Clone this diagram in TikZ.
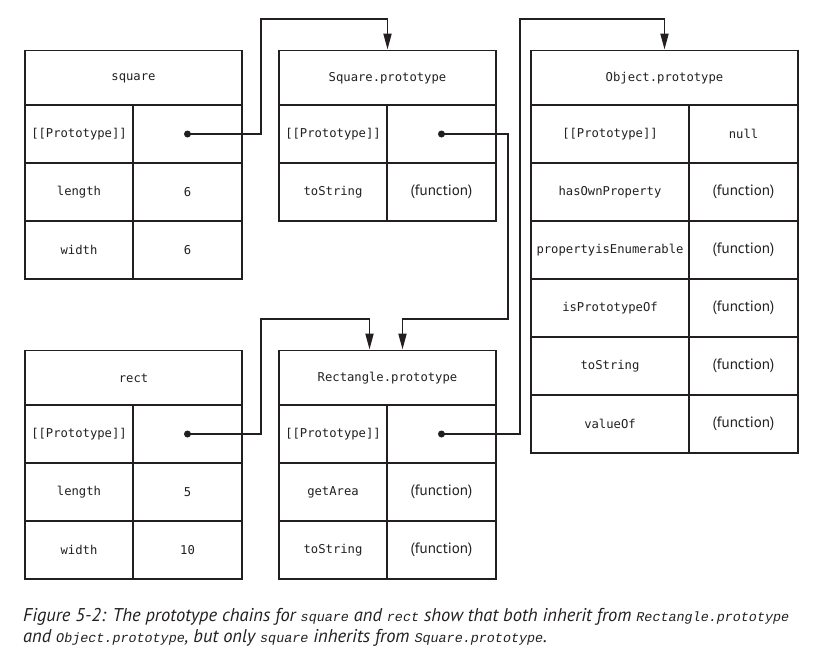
\documentclass[tikz,border=0pt]{standalone}
\usepackage{fontspec}
\setmainfont{PT Sans}
\setmonofont{DejaVu Sans Mono}
\newfontfamily\capmono{Liberation Mono}
\usepackage{tikz}
\usetikzlibrary{arrows.meta}

\definecolor{ink}{RGB}{35,31,32}
\newcommand{\cellfont}{\ttfamily\fontsize{12.2}{14}\selectfont}
\newcommand{\fnfont}{\rmfamily\fontsize{15}{17}\selectfont}
\newcommand{\code}[1]{{\capmono\itshape\fontsize{13.4}{16}\selectfont #1}}

\begin{document}
\begin{tikzpicture}
      % Set up styles (1pt = 1px, y grows downwards)
      [x=1pt, y=-1pt, ink,
       cell/.style={draw=ink, line width=1.9pt, rectangle, inner sep=0pt, minimum height=58pt, font=\cellfont},
       head/.style={cell, minimum height=55pt, minimum width=217pt},
       key/.style={cell, minimum width=108pt},
       val/.style={cell, minimum width=109pt},
       wide/.style={cell, minimum width=158pt},
       fn/.style={val, font=\fnfont},
       link/.style={draw=ink, line width=1.9pt, -{Triangle[length=16pt,width=8pt]}}]

      \useasboundingbox (0,0) rectangle (830,672);

      % square
      \node[head] (sqH) at (133.5,78) {square};
      \node[key] (sqPk) at (79,134) {[[Prototype]]};
      \node[val] (sqPv) at (187.5,134) {};
      \node[key] (sqLk) at (79,192) {length};
      \node[val] (sqLv) at (187.5,192) {6};
      \node[key] (sqWk) at (79,250) {width};
      \node[val] (sqWv) at (187.5,250) {6};

      % Square.prototype
      \node[head] (spH) at (387.5,78) {Square.prototype};
      \node[key] (spPk) at (333,134) {[[Prototype]]};
      \node[val] (spPv) at (441.5,134) {};
      \node[key] (spTk) at (333,192) {toString};
      \node[fn] (spTv) at (441.5,192) {(function)};

      % Object.prototype
      \node[head, minimum width=267pt] (obH) at (664.5,78) {Object.prototype};
      \node[wide] (obPk) at (610,134) {[[Prototype]]};
      \node[val] (obPv) at (743.5,134) {null};
      \node[wide] (obHk) at (610,192) {hasOwnProperty};
      \node[fn] (obHv) at (743.5,192) {(function)};
      \node[wide] (obEk) at (610,250) {propertyisEnumerable};
      \node[fn] (obEv) at (743.5,250) {(function)};
      \node[wide] (obIk) at (610,308) {isPrototypeOf};
      \node[fn] (obIv) at (743.5,308) {(function)};
      \node[wide] (obTk) at (610,366) {toString};
      \node[fn] (obTv) at (743.5,366) {(function)};
      \node[wide] (obVk) at (610,424) {valueOf};
      \node[fn] (obVv) at (743.5,424) {(function)};

      % rect
      \node[head] (rtH) at (133.5,378) {rect};
      \node[key] (rtPk) at (79,434) {[[Prototype]]};
      \node[val] (rtPv) at (187.5,434) {};
      \node[key] (rtLk) at (79,492) {length};
      \node[val] (rtLv) at (187.5,492) {5};
      \node[key] (rtWk) at (79,550) {width};
      \node[val] (rtWv) at (187.5,550) {10};

      % Rectangle.prototype
      \node[head] (rpH) at (387.5,378) {Rectangle.prototype};
      \node[key] (rpPk) at (333,434) {[[Prototype]]};
      \node[val] (rpPv) at (441.5,434) {};
      \node[key] (rpGk) at (333,492) {getArea};
      \node[fn] (rpGv) at (441.5,492) {(function)};
      \node[key] (rpTk) at (333,550) {toString};
      \node[fn] (rpTv) at (441.5,550) {(function)};

      % Bends of the prototype links
      \coordinate (b1) at (261,19);
      \coordinate (b2) at (508,319);
      \coordinate (b3) at (261,319);
      \coordinate (b4) at (520,19);

      % Draw prototype links
      \foreach \p in {sqPv,spPv,rtPv,rpPv}
        \fill[ink] (\p.center) circle (3.5pt);
      \draw[link] (sqPv.center) -| (b1) -| (spH.north);
      \draw[link] (spPv.center) -| (b2) -| ([xshift=15pt]rpH.north);
      \draw[link] (rtPv.center) -| (b3) -| ([xshift=-18pt]rpH.north);
      \draw[link] (rpPv.center) -| (b4) -| (obH.north);

      % Caption
      \node[anchor=base west, inner sep=0pt, align=left, font=\rmfamily\itshape\fontsize{18.5}{21}\selectfont] (cap) at (23,642)
        {Figure 5-2: The prototype chains for \code{square} and \code{rect} show that both inherit from \code{Rectangle.prototype}\\
         and \code{Object.prototype}, but only \code{square} inherits from \code{Square.prototype}.};

    \end{tikzpicture}
\end{document}
